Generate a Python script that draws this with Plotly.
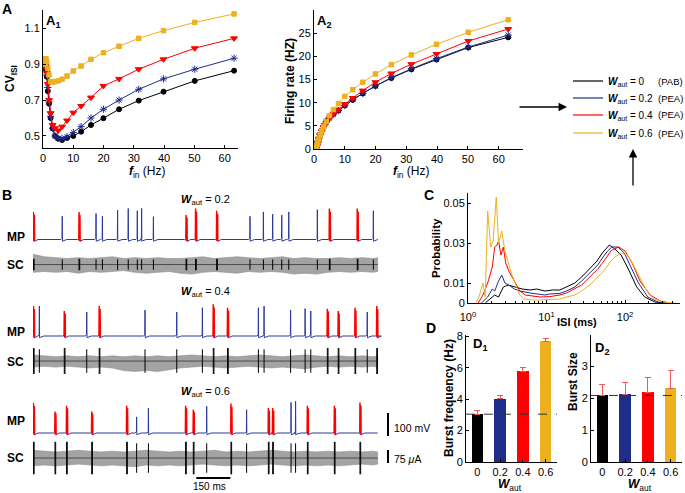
import plotly.graph_objects as go

W, H = 685, 493
FONT = "Liberation Sans, Arial, sans-serif"

# ---------------- DATA ----------------
# Panel A: input frequency (Hz)
FIN = [0.5, 0.63, 0.79, 1.0, 1.26, 1.58, 2.0, 2.51, 3.16, 3.98, 5.01, 6.31, 7.94,
       10.0, 12.59, 15.85, 19.95, 25.12, 31.62, 39.81, 50.12, 63.1]
SERIES = ["W_aut = 0", "W_aut = 0.2", "W_aut = 0.4", "W_aut = 0.6"]
CV_ISI = {
    "0":   [0.91, 0.91, 0.90, 0.87, 0.83, 0.75, 0.68, 0.60, 0.543, 0.50, 0.485, 0.478, 0.489,
            0.50, 0.524, 0.561, 0.599, 0.649, 0.697, 0.747, 0.807, 0.864],
    "0.2": [0.90, 0.90, 0.89, 0.88, 0.84, 0.77, 0.69, 0.61, 0.543, 0.50, 0.487, 0.487, 0.496,
            0.519, 0.552, 0.60, 0.649, 0.70, 0.76, 0.818, 0.872, 0.933],
    "0.4": [0.90, 0.90, 0.89, 0.88, 0.85, 0.79, 0.70, 0.627, 0.561, 0.543, 0.53, 0.552, 0.586,
            0.63, 0.667, 0.714, 0.779, 0.818, 0.872, 0.927, 0.989, 1.044],
    "0.6": [0.90, 0.91, 0.93, 0.93, 0.914, 0.877, 0.84, 0.803, 0.80, 0.803, 0.807, 0.816, 0.834,
            0.862, 0.89, 0.927, 0.964, 1.0, 1.044, 1.087, 1.133, 1.18],
}
RATE = {
    "0":   [0.1, 0.2, 0.4, 0.8, 1.4, 2.2, 3.1, 4.0, 5.0, 6.0, 6.8, 7.6, 8.3, 9.4, 10.6, 12.0,
            13.6, 15.3, 17.2, 19.3, 21.9, 24.1],
    "0.2": [0.1, 0.2, 0.4, 0.8, 1.4, 2.2, 3.1, 4.0, 5.0, 5.8, 6.7, 7.5, 8.3, 9.4, 10.7, 12.0,
            13.6, 15.4, 17.3, 19.5, 22.0, 24.6],
    "0.4": [0.1, 0.2, 0.4, 0.8, 1.4, 2.2, 3.0, 3.8, 4.7, 5.6, 6.6, 7.5, 8.5, 9.7, 11.0, 12.6,
            14.4, 16.3, 18.3, 20.5, 23.3, 25.9],
    "0.6": [0.15, 0.3, 0.5, 0.9, 1.5, 2.2, 3.0, 3.9, 4.9, 5.9, 7.2, 8.5, 9.8, 11.35, 12.8, 14.4,
            16.2, 18.2, 20.3, 22.6, 25.2, 27.9],
}

# Panel C: ISI histograms (ISI in ms, probability)
ISI_X = {
    "0":   [1.66, 1.91, 2.19, 2.45, 2.82, 3.24, 3.89, 4.9, 6.17, 7.5, 9.55, 12, 14.8, 18, 22.9,
            28, 35.5, 44, 51.3, 57, 63.1, 74.1, 89.1, 110, 141, 178, 240, 316],
    "0.2": [1.48, 1.78, 2.04, 2.19, 2.45, 2.69, 2.95, 3.31, 3.89, 4.57, 6.17, 8, 9.55, 11, 14.8,
            18, 22.9, 28, 35.5, 45, 52.5, 60, 67.6, 81.3, 97.7, 115, 148, 195, 263, 355],
    "0.4": [1.35, 1.55, 1.78, 2.04, 2.19, 2.34, 2.45, 2.63, 2.82, 3.02, 3.31, 3.63, 4.07, 4.57,
            5.37, 6.5, 8.3, 11, 14.8, 18, 22.9, 28, 35.5, 45, 56.2, 66, 72.4, 83.2, 100, 123,
            155, 209, 282, 372],
    "0.6": [1.26, 1.38, 1.55, 1.66, 1.78, 1.95, 2.09, 2.29, 2.45, 2.69, 2.95, 3.24, 3.63, 4.07,
            4.57, 5.13, 6.5, 8.3, 11, 14.8, 18, 22.9, 28, 35.5, 45, 56.2, 66, 74.1, 89.1, 107,
            120, 135, 155, 178, 205, 240, 324, 437],
}
ISI_P = {
    "0":   [0, 0.002, 0.004, 0.003, 0.008, 0.009, 0.008, 0.007, 0.0065, 0.007, 0.006, 0.0065,
            0.0065, 0.008, 0.010, 0.013, 0.017, 0.021, 0.025, 0.027, 0.029, 0.027, 0.024, 0.017,
            0.008, 0.003, 0.0005, 0],
    "0.2": [0, 0.003, 0.007, 0.006, 0.011, 0.014, 0.010, 0.009, 0.007, 0.006, 0.005, 0.0045,
            0.004, 0.0045, 0.0048, 0.006, 0.008, 0.011, 0.015, 0.019, 0.023, 0.026, 0.028, 0.028,
            0.025, 0.019, 0.010, 0.003, 0.0005, 0],
    "0.4": [0, 0.004, 0.010, 0.018, 0.028, 0.029, 0.031, 0.024, 0.028, 0.020, 0.016, 0.013,
            0.009, 0.006, 0.004, 0.0035, 0.003, 0.0032, 0.004, 0.005, 0.007, 0.009, 0.013, 0.017,
            0.022, 0.026, 0.027, 0.028, 0.026, 0.020, 0.011, 0.004, 0.001, 0],
    "0.6": [0, 0.003, 0.010, 0.003, 0.046, 0.028, 0.031, 0.053, 0.030, 0.036, 0.026, 0.020,
            0.014, 0.009, 0.004, 0.002, 0.0015, 0.0015, 0.0018, 0.002, 0.003, 0.004, 0.006,
            0.009, 0.013, 0.017, 0.021, 0.023, 0.025, 0.024, 0.021, 0.017, 0.012, 0.008, 0.004,
            0.002, 0.0003, 0],
}

# Panel D
W_AUT = ["0", "0.2", "0.4", "0.6"]
BURST_FREQ = [3.05, 4.05, 5.8, 7.7]
BURST_FREQ_ERR = [0.22, 0.2, 0.22, 0.15]
BURST_SIZE = [2.08, 2.12, 2.18, 2.3]
BURST_SIZE_ERR = [0.35, 0.38, 0.45, 0.55]

# Panel B: spike times (ms), peak amplitude above rest (mV), burst flag
B_TITLES = ["0.2", "0.4", "0.6"]
SPK_T = [
    [2, 129, 203, 278, 306, 373, 420, 460, 479, 531, 675, 717, 810, 957, 1016, 1057, 1097,
     1128, 1254, 1307, 1430, 1501],
    [2, 28, 138, 237, 292, 494, 634, 747, 795, 858, 994, 1019, 1136, 1200, 1225, 1298, 1346,
     1420, 1474, 1516],
    [2, 97, 148, 259, 413, 457, 509, 673, 707, 766, 873, 942, 1038, 1057, 1138, 1158, 1210,
     1329, 1442],
]
SPK_A = [
    [120, 101, 120, 113, 101, 128, 135, 125, 135, 99, 106, 135, 125, 101, 120, 110, 106, 120,
     130, 135, 135, 125],
    [130, 130, 109, 104, 130, 113, 104, 123, 138, 123, 123, 130, 113, 119, 109, 119, 109, 123,
     104, 130],
    [130, 94, 119, 94, 119, 70, 109, 119, 101, 116, 128, 101, 109, 109, 133, 138, 119, 119,
     133],
]
SPK_BURST = [
    [1, 0, 1, 0, 0, 0, 0, 0, 0, 0, 1, 1, 1, 0, 0, 0, 0, 0, 0, 1, 1, 0],
    [1, 0, 1, 0, 1, 0, 0, 0, 1, 1, 0, 0, 0, 0, 0, 1, 1, 1, 0, 1],
    [1, 1, 1, 1, 1, 0, 0, 1, 1, 0, 1, 0, 1, 1, 0, 0, 1, 1, 1],
]
SC_SPIKE_AMP = [30, 68, 85]          # uA
SC_T = [0, 50, 100, 150, 200, 250, 300, 350, 400, 450, 500, 550, 600, 650, 700, 750, 800,
        850, 900, 950, 1000, 1050, 1100, 1150, 1200, 1250, 1300, 1350, 1400, 1450, 1500, 1520]
SC_UP = [
    [60, 45, 40, 35, 40, 35, 40, 45, 35, 40, 35, 40, 35, 35, 40, 45, 35, 40, 45, 40, 35, 40,
     45, 35, 40, 35, 35, 40, 35, 40, 35, 40],
    [35, 30, 25, 30, 25, 30, 25, 30, 25, 30, 25, 30, 25, 30, 35, 30, 25, 30, 25, 30, 35, 30,
     25, 30, 35, 30, 25, 30, 25, 30, 25, 30],
    [45, 40, 35, 40, 45, 40, 35, 40, 35, 40, 45, 40, 35, 40, 35, 40, 45, 35, 40, 35, 40, 45,
     40, 35, 40, 35, 40, 35, 40, 35, 40, 35],
]
SC_LO = [
    [-45, -40, -45, -40, -50, -40, -45, -40, -35, -45, -50, -45, -40, -50, -55, -45, -40, -45,
     -50, -40, -45, -40, -45, -55, -50, -55, -45, -40, -45, -40, -45, -40],
    [-35, -30, -35, -30, -35, -40, -35, -40, -55, -60, -55, -60, -50, -40, -35, -30, -35, -40,
     -35, -30, -35, -40, -35, -40, -45, -35, -30, -35, -30, -35, -30, -35],
    [-45, -40, -45, -40, -35, -40, -45, -40, -45, -50, -40, -45, -40, -45, -40, -35, -40, -45,
     -40, -45, -40, -35, -40, -45, -40, -45, -40, -45, -40, -35, -40, -35],
]

# ---------------- STYLE ----------------
COLORS = {"0": "#000000", "0.2": "#1f2d8a", "0.4": "#ff0000", "0.6": "#edb120"}
MARKERS = {"0": ("circle", 5), "0.2": ("asterisk-open", 6),
           "0.4": ("triangle-down", 6), "0.6": ("square", 4.5)}
MP_BLUE = "#2a3a9c"
KEYS = ["0", "0.2", "0.4", "0.6"]


def xdom(x0, x1):
    return [x0 / W, x1 / W]


def ydom(top, bottom):
    return [1 - bottom / H, 1 - top / H]


AX = dict(showline=True, linecolor="black", linewidth=1, ticks="inside", ticklen=3,
          tickcolor="black", showgrid=False, zeroline=False, mirror=False, automargin=False,
          tickfont=dict(size=11, color="black", family=FONT))

fig = go.Figure()

# ---- A1 ----
for k in KEYS:
    sym, sz = MARKERS[k]
    fig.add_trace(go.Scatter(x=FIN, y=CV_ISI[k], mode="lines+markers", xaxis="x", yaxis="y",
                             line=dict(color=COLORS[k], width=1),
                             marker=dict(symbol=sym, size=sz, color=COLORS[k],
                                         line=dict(width=1, color=COLORS[k]))))
# ---- A2 ----
for k in KEYS:
    sym, sz = MARKERS[k]
    fig.add_trace(go.Scatter(x=FIN, y=RATE[k], mode="lines+markers", xaxis="x2", yaxis="y2",
                             line=dict(color=COLORS[k], width=1),
                             marker=dict(symbol=sym, size=sz, color=COLORS[k],
                                         line=dict(width=1, color=COLORS[k]))))
# ---- C ----
for k in KEYS:
    fig.add_trace(go.Scatter(x=ISI_X[k], y=ISI_P[k], mode="lines", xaxis="x3", yaxis="y3",
                             line=dict(color=COLORS[k], width=1)))

# ---- D ----
bar_cols = [COLORS[k] for k in KEYS]
err_style = dict(type="data", symmetric=False, arrayminus=[0, 0, 0, 0], color="#ec5a5a",
                 thickness=1, width=3)
fig.add_trace(go.Bar(x=[1, 2, 3, 4], y=BURST_FREQ, width=0.5, marker=dict(color=bar_cols, line=dict(width=0)),
                     error_y=dict(array=BURST_FREQ_ERR, **err_style), xaxis="x4", yaxis="y4"))
fig.add_trace(go.Bar(x=[1, 2, 3, 4], y=BURST_SIZE, width=0.5, marker=dict(color=bar_cols, line=dict(width=0)),
                     error_y=dict(array=BURST_SIZE_ERR, **err_style), xaxis="x5", yaxis="y5"))
fig.add_trace(go.Scatter(x=[0.5, 4.5], y=[BURST_FREQ[0]] * 2, mode="lines", xaxis="x4", yaxis="y4",
                         line=dict(color="#333333", width=1, dash="dash")))
fig.add_trace(go.Scatter(x=[0.5, 4.5], y=[BURST_SIZE[0]] * 2, mode="lines", xaxis="x5", yaxis="y5",
                         line=dict(color="#333333", width=1, dash="dash")))

# ---- B ----
REST = -65.0
SC_OFF = -174.0
UA_TO_AX = 4.35 / 5.77
T_END = 1520
B_ROWS = [(239.5, "x6", "y6"), (336, "x7", "y7"), (433, "x8", "y8")]

for r, (base_px, xa, ya) in enumerate(B_ROWS):
    ts, amps, bursts = SPK_T[r], SPK_A[r], SPK_BURST[r]
    # SC noise band
    bx = SC_T + SC_T[::-1]
    by = [SC_OFF + v * UA_TO_AX for v in SC_UP[r]] + [SC_OFF + v * UA_TO_AX for v in SC_LO[r][::-1]]
    fig.add_trace(go.Scatter(x=bx, y=by, fill="toself", fillcolor="#a3a3a3", mode="lines",
                             line=dict(width=0.6, color="#8f8f8f"), xaxis=xa, yaxis=ya))
    fig.add_trace(go.Scatter(x=[0, T_END], y=[SC_OFF, SC_OFF], mode="lines",
                             line=dict(color="#333333", width=0.8), xaxis=xa, yaxis=ya))
    # SC spikes
    sx, sy = [], []
    for t, b in zip(ts, bursts):
        n = 2 if b else 1
        a = SC_SPIKE_AMP[r] * (1.1 if b else 1.0)
        for j in range(n):
            tt = t + 3 * j
            sx += [tt, tt, None]
            sy += [SC_OFF - a * UA_TO_AX, SC_OFF + a * UA_TO_AX, None]
    fig.add_trace(go.Scatter(x=sx, y=sy, mode="lines", line=dict(color="black", width=1),
                             xaxis=xa, yaxis=ya))
    # MP trace (blue) with single spikes; burst spikes in red on top
    mx, my = [0], [REST]
    rx, ry = [], []
    for t, a, b in zip(ts, amps, bursts):
        if b:
            rx += [t - 1, t, t + 1, t + 3, t + 4, t + 5, None]
            ry += [REST + 3, REST + a, REST - 6, REST - 2, REST + a * 0.9, REST - 8, None]
            mx += [t - 6, t - 1, t + 5, t + 8, t + 20]
            my += [REST, REST + 3, REST - 8, REST - 6, REST]
        else:
            mx += [t - 6, t - 1, t, t + 1, t + 4, t + 20]
            my += [REST, REST + 5, REST + a, REST - 8, REST - 6, REST]
    mx += [T_END]
    my += [REST]
    fig.add_trace(go.Scatter(x=mx, y=my, mode="lines", line=dict(color=MP_BLUE, width=1, simplify=False),
                             xaxis=xa, yaxis=ya))
    fig.add_trace(go.Scatter(x=rx, y=ry, mode="lines", line=dict(color="#ff0000", width=1.5, simplify=False),
                             xaxis=xa, yaxis=ya))

# ---------------- LAYOUT ----------------
lay = dict(width=W, height=H, margin=dict(l=0, r=0, t=0, b=0, autoexpand=False), autosize=False,
           paper_bgcolor="white", plot_bgcolor="rgba(0,0,0,0)", showlegend=False,
           font=dict(family=FONT, color="black"), bargap=0)

lay["xaxis"] = dict(AX, domain=xdom(43, 238), range=[0, 64.4], tickvals=[0, 10, 20, 30, 40, 50, 60], anchor="y")
lay["yaxis"] = dict(AX, domain=ydom(10, 148), range=[0.433, 1.202], tickvals=[0.5, 0.7, 0.9, 1.1], anchor="x")
lay["xaxis2"] = dict(AX, domain=xdom(314, 523), range=[0, 67.9], tickvals=[0, 10, 20, 30, 40, 50, 60], anchor="y2")
lay["yaxis2"] = dict(AX, domain=ydom(10, 149), range=[0, 30], tickvals=[0, 5, 10, 15, 20, 25], anchor="x2")
lay["xaxis3"] = dict(AX, type="log", domain=xdom(468, 680), range=[0, 2.7], tickvals=[1, 10, 100],
                     ticktext=["10<sup>0</sup>", "10<sup>1</sup>", "10<sup>2</sup>"], anchor="y3",
                     ticklabelstandoff=4,
                     minor=dict(tickvals=[2, 3, 4, 5, 6, 7, 8, 9, 20, 30, 40, 50, 60, 70, 80, 90, 200, 300, 400, 500],
                                ticks="inside", ticklen=2, tickcolor="black"))
lay["yaxis3"] = dict(AX, domain=ydom(193, 303), range=[0, 0.055], tickvals=[0, 0.01, 0.03, 0.05],
                     ticktext=["0", "0.01", "0.03", "0.05"], anchor="x3")
lay["xaxis4"] = dict(AX, domain=xdom(466, 557), range=[0.5, 4.5], tickvals=[1, 2, 3, 4], ticktext=W_AUT, anchor="y4")
lay["yaxis4"] = dict(AX, domain=ydom(335, 462), range=[0, 8.1], tickvals=[0, 2, 4, 6, 8], anchor="x4")
lay["xaxis5"] = dict(AX, domain=xdom(591, 682), range=[0.5, 4.5], tickvals=[1, 2, 3, 4], ticktext=W_AUT, anchor="y5")
lay["yaxis5"] = dict(AX, domain=ydom(335, 462), range=[0, 3.97], tickvals=[0, 1, 2, 3], anchor="x5")
T_RANGE = [0, (400 - 33) * 4.41]
for i, (base_px, xa, ya) in enumerate(B_ROWS):
    n = 6 + i
    lay[f"xaxis{n}"] = dict(visible=False, domain=xdom(33, 400), range=T_RANGE, anchor=f"y{n}")
    lay[f"yaxis{n}"] = dict(visible=False, domain=ydom(base_px - 35, base_px + 42),
                            range=[REST - 42 * 4.35, REST + 35 * 4.35], anchor=f"x{n}")
fig.update_layout(**lay)

# ---------------- ANNOTATIONS ----------------
def ann(x, y, text, size=11, angle=0, xanchor="center", yanchor="middle"):
    fig.add_annotation(x=x / W, y=1 - y / H, xref="paper", yref="paper", text=text,
                       showarrow=False, textangle=angle, xanchor=xanchor, yanchor=yanchor,
                       borderpad=0, font=dict(size=size, family=FONT, color="black"))

WAUT = "<b><i>W</i></b><sub>aut</sub>"
FIN_LABEL = "<b><i>f</i></b><sub>in</sub> (Hz)"

ann(7, 9, "<b>A</b>", 14)
ann(53, 21, "<b>A<sub>1</sub></b>", 13)
ann(324, 21, "<b>A<sub>2</sub></b>", 13)
ann(11, 79, "<b>CV<sub>ISI</sub></b>", 12, angle=-90)
ann(147, 172, FIN_LABEL, 12)
ann(290, 81, "<b>Firing rate (HZ)</b>", 12, angle=-90)
ann(411, 172, FIN_LABEL, 12)

# legend
LEG_Y = [81, 98, 115, 133]
LEG_TXT = ["0", "0.2", "0.4", "0.6"]
LEG_TAG = ["(PAB)", "(PEA)", "(PEA)", "(PEA)"]
for k, yv, t, tag in zip(KEYS, LEG_Y, LEG_TXT, LEG_TAG):
    fig.add_shape(type="line", xref="paper", yref="paper", x0=573 / W, x1=603 / W,
                  y0=1 - yv / H, y1=1 - yv / H, line=dict(color=COLORS[k], width=1.2))
    ann(607, yv + 1, WAUT + " = " + t, 10, xanchor="left")
    ann(657, yv, tag, 9.5, xanchor="left")

# arrows
fig.add_annotation(x=567 / W, y=1 - 107 / H, xref="paper", yref="paper", text="",
                   showarrow=True, ax=-49, ay=0, arrowhead=2, arrowsize=1.3, arrowwidth=1.3,
                   arrowcolor="black")
fig.add_annotation(x=633 / W, y=1 - 149 / H, xref="paper", yref="paper", text="",
                   showarrow=True, ax=0, ay=38, arrowhead=2, arrowsize=1.3, arrowwidth=1.3,
                   arrowcolor="black")

# B labels
ann(7, 195, "<b>B</b>", 14)
B_TITLE_Y = [200, 292, 392]
MP_Y = [237, 332, 421]
SC_Y = [265, 362, 458]
for i in range(3):
    ann(205, B_TITLE_Y[i], WAUT + " = " + B_TITLES[i], 11)
    ann(16, MP_Y[i], "<b>MP</b>", 12)
    ann(16, SC_Y[i], "<b>SC</b>", 12)

# scale bars (row 3 axes)
fig.add_shape(type="line", xref="paper", yref="y8", x0=388 / W, x1=388 / W,
              y0=REST - 3 * 4.35, y1=REST - 3 * 4.35 + 100, line=dict(color="black", width=2))
fig.add_shape(type="line", xref="paper", yref="y8", x0=388 / W, x1=388 / W,
              y0=SC_OFF - 5 * 4.35, y1=SC_OFF - 5 * 4.35 + 75 * UA_TO_AX, line=dict(color="black", width=2))
fig.add_shape(type="line", xref="x8", yref="paper", x0=720, x1=870,
              y0=1 - 478 / H, y1=1 - 478 / H, line=dict(color="black", width=2))
ann(393, 428, "100 mV", 10.5, xanchor="left")
ann(393, 459, "75 <i>μ</i>A", 10.5, xanchor="left")
ann(209, 486, "150 ms", 10)

# C labels
ann(429, 195, "<b>C</b>", 14)
ann(436, 248, "<b>Probability</b>", 11.5, angle=-90)
ann(556, 322, "<b>ISI (ms)</b>", 11, xanchor="left")

# D labels
ann(431, 328, "<b>D</b>", 14)
ann(480, 344, "<b>D<sub>1</sub></b>", 13)
ann(602, 348, "<b>D<sub>2</sub></b>", 13)
ann(449, 398, "<b>Burst frequency (Hz)</b>", 12, angle=-90)
ann(573, 382, "<b>Burst Size</b>", 12, angle=-90)
ann(510, 485, WAUT, 12)
ann(640, 485, WAUT, 12)

fig.write_html("out.html", config={"displayModeBar": False},
               post_script="document.body.style.margin='0';document.body.style.overflow='hidden';")
